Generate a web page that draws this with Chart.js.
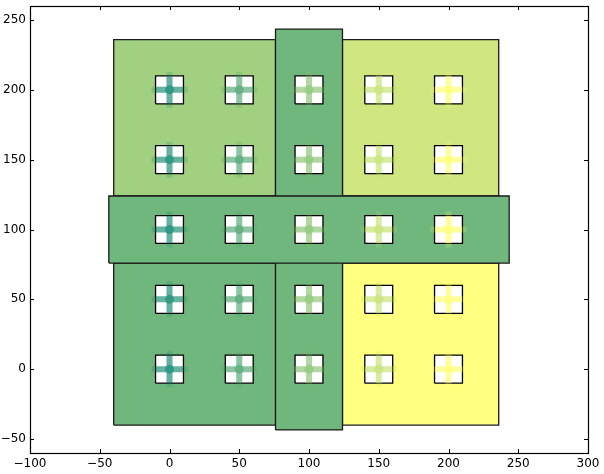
<!DOCTYPE html>
<html><head><meta charset="utf-8">
<script src="https://cdn.jsdelivr.net/npm/chart.js@4.4.0/dist/chart.umd.min.js"></script>
<style>html,body{margin:0;padding:0;background:#fff}#wrap{width:604px;height:474px}</style>
</head><body><div id="wrap"><canvas id="c" width="604" height="474"></canvas></div>
<script>
// axis ranges and ticks
const xRange = [-100, 300];
const yRange = [-60, 260];
const xTicks = [-100, -50, 0, 50, 100, 150, 200, 250, 300];
const yTicks = [-50, 0, 50, 100, 150, 200, 250];

// big blocks, drawn in this order: [x0, x1] and [y0, y1]
const blockNames = ['bottomLeft', 'topLeft', 'topRight', 'bottomRight', 'verticalBand', 'horizontalBand'];
const blockX0 = [-40, -40, 124, 124, 76, -43.5];
const blockX1 = [76, 76, 236, 236, 124, 243.5];
const blockY0 = [-40, 124, 124, -40, -43.5, 76];
const blockY1 = [76, 236, 236, 76, 243.5, 124];
const blockColors = ['#70b77e', '#a0d080', '#d0e680', '#ffff80', '#70b77e', '#70b77e'];

// windows centred on a grid
const windowX = [0, 50, 100, 150, 200];
const windowY = [0, 50, 100, 150, 200];
const windowHalf = 10;   // half side of a window (data units)

function summer(t, a) {
  const r = Math.round(255 * t), g = Math.round(255 * (0.5 + 0.5 * t)), b = Math.round(255 * 0.4);
  return `rgba(${r},${g},${b},${a})`;
}
function rectPts(x0, x1, y0, y1) {
  return [{x: x0, y: y0}, {x: x1, y: y0}, {x: x1, y: y1}, {x: x0, y: y1}, {x: x0, y: y0}];
}
function polyDs(pts, fillColor, edge, bw) {
  return {type: 'scatter', data: pts, showLine: true, fill: 'shape', backgroundColor: fillColor,
    borderColor: edge, borderWidth: bw, pointRadius: 0, tension: 0};
}

const datasets = [];
blockNames.forEach((n, i) => {
  datasets.push(polyDs(rectPts(blockX0[i], blockX1[i], blockY0[i], blockY1[i]), blockColors[i], '#1a1a1a', 1.3));
});
windowX.forEach(cx => {
  windowY.forEach(cy => {
    datasets.push(polyDs(rectPts(cx - windowHalf, cx + windowHalf, cy - windowHalf, cy + windowHalf), '#ffffff', '#000000', 1.3));
  });
});
// mullions: inner cross inside the window, faint longer cross and a centre dot
windowX.forEach(cx => {
  const t = cx / 200;
  const pts = windowY.map(cy => ({x: cx, y: cy}));
  datasets.push({type: 'scatter', data: pts, pointStyle: 'cross', pointRadius: 13.5, pointHoverRadius: 13.5,
    borderColor: summer(t, 0.5), borderWidth: 6, backgroundColor: summer(t, 0.5)});
  datasets.push({type: 'scatter', data: pts, pointStyle: 'cross', pointRadius: 18, pointHoverRadius: 18,
    borderColor: summer(t, 0.2), borderWidth: 6, backgroundColor: summer(t, 0.2)});
  datasets.push({type: 'scatter', data: pts, pointStyle: 'circle', pointRadius: 4.5, pointHoverRadius: 4.5,
    borderWidth: 0, backgroundColor: summer(t, 0.5)});
});
// Chart.js paints the last dataset first, so reverse to keep the drawing order above
datasets.reverse();

const frame = {
  id: 'frame',
  afterDraw(chart) {
    const {ctx, chartArea: a, scales: {x, y}} = chart;
    ctx.save();
    ctx.strokeStyle = '#000';
    ctx.lineWidth = 1;
    ctx.beginPath();
    xTicks.forEach(v => {
      const p = Math.round(x.getPixelForValue(v)) + 0.5;
      ctx.moveTo(p, a.bottom); ctx.lineTo(p, a.bottom - 4);
      ctx.moveTo(p, a.top); ctx.lineTo(p, a.top + 4);
    });
    yTicks.forEach(v => {
      const p = Math.round(y.getPixelForValue(v)) + 0.5;
      ctx.moveTo(a.left, p); ctx.lineTo(a.left + 4, p);
      ctx.moveTo(a.right, p); ctx.lineTo(a.right - 4, p);
    });
    ctx.stroke();
    ctx.lineWidth = 1.2;
    ctx.strokeRect(Math.round(a.left) + 0.5, Math.round(a.top) + 0.5, Math.round(a.right - a.left), Math.round(a.bottom - a.top));
    ctx.restore();
  }
};

const fmt = v => String(v).replace('-', '\u2212');
new Chart(document.getElementById('c'), {
  type: 'scatter',
  data: {datasets},
  options: {
    responsive: false, animation: false, devicePixelRatio: 1,
    layout: {autoPadding: false, padding: {left: 0, right: 16, top: 6, bottom: 0}},
    plugins: {legend: {display: false}, tooltip: {enabled: false}},
    events: [],
    scales: {
      x: {type: 'linear', min: xRange[0], max: xRange[1],
        afterBuildTicks: s => { s.ticks = xTicks.map(v => ({value: v})); },
        afterFit: s => { s.height = 21; s.paddingLeft = 0; s.paddingRight = 0; },
        grid: {display: false, drawTicks: false}, border: {display: false},
        ticks: {padding: 4, color: '#000', font: {family: 'DejaVu Sans', size: 12}, callback: fmt, maxRotation: 0}},
      y: {type: 'linear', min: yRange[0], max: yRange[1],
        afterBuildTicks: s => { s.ticks = yTicks.map(v => ({value: v})); },
        afterFit: s => { s.width = 30; s.paddingTop = 0; s.paddingBottom = 0; },
        grid: {display: false, drawTicks: false}, border: {display: false},
        ticks: {padding: 4, color: '#000', font: {family: 'DejaVu Sans', size: 12}, callback: fmt}}
    }
  },
  plugins: [frame]
});
</script></body></html>
